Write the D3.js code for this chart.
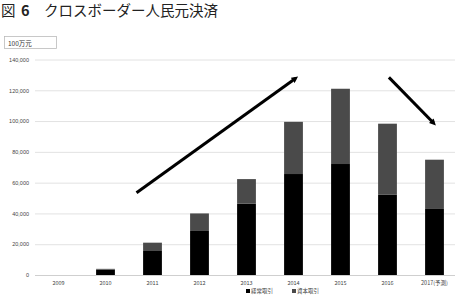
<!DOCTYPE html>
<html>
<head>
<meta charset="utf-8">
<script src="https://cdn.jsdelivr.net/npm/d3@7"></script>
<style>
  body { margin: 0; background: #fff; }
  svg { display: block; font-family: "Noto Sans CJK JP", "Noto Sans", sans-serif; }
</style>
</head>
<body>
<div id="chart"></div>
<script>
// data (100万元)
const years = ["2009", "2010", "2011", "2012", "2013", "2014", "2015", "2016", "2017(予測)"];
const current = [0, 3500, 15600, 28600, 46300, 65600, 72100, 52100, 42900];   // 経常取引
const capital = [0, 500, 5400, 11400, 16000, 33900, 48900, 46200, 32000];     // 資本取引
const yTicks = [0, 20000, 40000, 60000, 80000, 100000, 120000, 140000];
const seriesNames = ["経常取引", "資本取引"];
const seriesColors = ["#000000", "#4a4a4a"];
// trend arrows: [category position, value] pairs
const arrows = [
  [[1.66, 53400], [5.04, 127700]],
  [[7.03, 128400], [7.98, 98700]]
];

const width = 462, height = 297;
const plot = { left: 35, right: 458, top: 59.5, bottom: 275 };

const svg = d3.select("#chart").append("svg")
  .attr("width", width)
  .attr("height", height);

const x = d3.scaleBand().domain(years).range([plot.left, plot.right]).paddingInner(0.6).paddingOuter(0.3);
const y = d3.scaleLinear().domain([0, 140000]).range([plot.bottom, plot.top]);

// title
const title = svg.append("text")
  .attr("y", 16)
  .style("font-size", "14.5px")
  .attr("fill", "#222");
title.append("tspan").attr("x", 1).text("図");
title.append("tspan").attr("x", 21).attr("font-weight", "bold").text("6");
title.append("tspan").attr("x", 44).text("クロスボーダー人民元決済");

// unit box
svg.append("rect")
  .attr("x", 4.5).attr("y", 36.5).attr("width", 52).attr("height", 12)
  .attr("fill", "#fff").attr("stroke", "#bbb").attr("stroke-width", 0.8);
svg.append("text")
  .attr("x", 8).attr("y", 45.5)
  .style("font-size", "6.5px").attr("fill", "#333")
  .text("100万元");

// grid + y labels
const yAxis = d3.axisLeft(y).tickValues(yTicks).tickFormat(d3.format(",")).tickSize(-(plot.right - plot.left - 3)).tickPadding(6);
const gy = svg.append("g").attr("transform", `translate(${plot.left},0)`).call(yAxis);
gy.select(".domain").remove();
gy.selectAll(".tick line").attr("stroke", d => d === 0 ? "#cfcfcf" : "#e2e2e2").attr("stroke-width", 1);
gy.selectAll(".tick text").style("font-size", "5.5px").attr("fill", "#444").style("font-family", "inherit");

// stacked bars
const stackData = years.map((yr, i) => ({ year: yr, c0: current[i], c1: capital[i] }));
const stack = d3.stack().keys(["c0", "c1"])(stackData);
svg.append("g").selectAll("g")
  .data(stack)
  .join("g")
  .attr("fill", (d, i) => seriesColors[i])
  .selectAll("rect")
  .data(d => d)
  .join("rect")
  .attr("x", d => x(d.data.year))
  .attr("width", x.bandwidth())
  .attr("y", d => y(d[1]))
  .attr("height", d => y(d[0]) - y(d[1]));

// x labels
svg.append("g").selectAll("text")
  .data(years)
  .join("text")
  .attr("x", d => x(d) + x.bandwidth() / 2)
  .attr("y", 285)
  .attr("text-anchor", "middle")
  .style("font-size", "5.5px")
  .attr("fill", "#444")
  .text(d => d);

// arrows
const catX = p => x(years[0]) + x.bandwidth() / 2 + p * x.step();
svg.append("defs").append("marker")
  .attr("id", "head")
  .attr("viewBox", "0 0 10 10")
  .attr("refX", 5).attr("refY", 5)
  .attr("markerWidth", 2.2).attr("markerHeight", 2.2)
  .attr("orient", "auto")
  .append("path").attr("d", "M0,0 L10,5 L0,10 Z").attr("fill", "#000");
svg.append("g").selectAll("line")
  .data(arrows)
  .join("line")
  .attr("x1", d => catX(d[0][0])).attr("y1", d => y(d[0][1]))
  .attr("x2", d => catX(d[1][0])).attr("y2", d => y(d[1][1]))
  .attr("stroke", "#000").attr("stroke-width", 3)
  .attr("marker-end", "url(#head)");

// legend
const legend = svg.append("g").selectAll("g")
  .data(seriesNames)
  .join("g")
  .attr("transform", (d, i) => `translate(${246 + i * 46},289)`);
legend.append("rect").attr("width", 4).attr("height", 4).attr("fill", (d, i) => seriesColors[i]);
legend.append("text").attr("x", 5).attr("y", 4.2).style("font-size", "5.5px").attr("fill", "#444").text(d => d);
</script>
</body>
</html>
